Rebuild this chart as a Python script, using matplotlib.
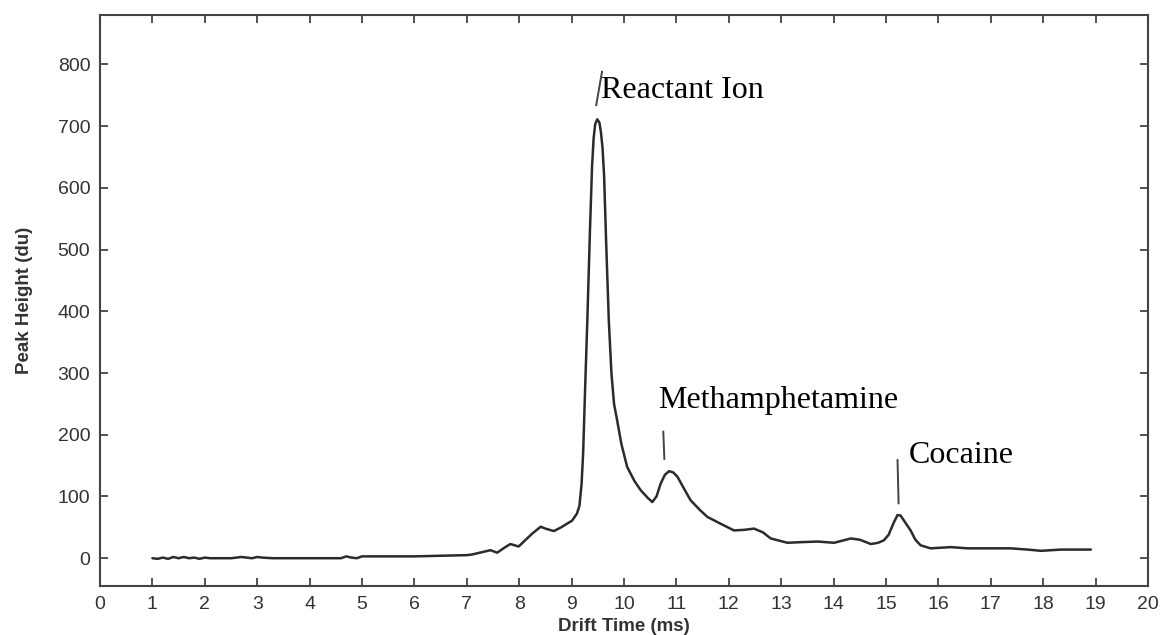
import matplotlib.pyplot as plt

# drift time (ms) and peak height (du)
drift_time = [1.0, 1.1, 1.2, 1.3, 1.4, 1.5, 1.6, 1.7, 1.8, 1.9, 2.0, 2.1, 2.3, 2.5,
              2.7, 2.8, 2.9, 3.0, 3.1, 3.3, 3.6, 4.0, 4.4, 4.6, 4.7, 4.8, 4.9, 5.0,
              5.5, 6.0, 6.5, 7.0, 7.1, 7.3, 7.45, 7.58, 7.7, 7.83, 7.99, 8.1, 8.25,
              8.41, 8.5, 8.66, 8.8, 9.01, 9.1, 9.15, 9.19, 9.22, 9.26, 9.30, 9.35,
              9.39, 9.42, 9.45, 9.49, 9.53, 9.56, 9.59, 9.62, 9.66, 9.71, 9.76, 9.81,
              9.87, 9.95, 10.06, 10.2, 10.32, 10.45, 10.54, 10.62, 10.70, 10.78,
              10.86, 10.94, 11.02, 11.15, 11.27, 11.45, 11.59, 11.84, 12.10, 12.3,
              12.48, 12.65, 12.80, 13.12, 13.37, 13.7, 14.01, 14.33, 14.5, 14.71,
              14.85, 14.96, 15.05, 15.15, 15.22, 15.28, 15.35, 15.47, 15.56, 15.66,
              15.85, 16.24, 16.56, 17.0, 17.38, 17.7, 17.96, 18.34, 18.6, 18.91]
peak_height = [0, -1, 1, -1, 2, 0, 2, 0, 1, -1, 1, 0, 0, 0,
               2, 1, 0, 2, 1, 0, 0, 0, 0, 0, 3, 1, 0, 3,
               3, 3, 4, 5, 6, 10, 13, 9, 16, 23, 19, 28, 40,
               51, 48, 44, 50, 61, 72, 85, 120, 170, 280, 385, 530,
               634, 680, 703, 711, 706, 690, 665, 620, 510, 385, 300, 250,
               223, 185, 148, 125, 110, 98, 91, 100, 121, 135,
               141, 139, 132, 112, 94, 78, 67, 56, 45, 46,
               48, 42, 32, 25, 26, 27, 25, 32, 30, 23,
               25, 29, 38, 58, 70, 69, 60, 45, 30, 21,
               16, 18, 16, 16, 16, 14, 12, 14, 14, 14]

# peak annotations: label, text anchor (x, y), marker segment (x0, y0, x1, y1)
labels = ["Reactant Ion", "Methamphetamine", "Cocaine"]
label_xy = [(9.57, 758), (10.66, 256), (15.43, 167)]
marker_seg = [(9.47, 734, 9.58, 788), (10.77, 161, 10.75, 205), (15.24, 89, 15.22, 159)]

x_ticks = list(range(0, 21))
y_ticks = list(range(0, 801, 100))

fig = plt.figure(figsize=(11.61, 6.35), dpi=100)
ax = fig.add_axes([100 / 1161, 1 - 586 / 635, 1048 / 1161, 571 / 635])

ax.plot(drift_time, peak_height, color="#2b2b2b", linewidth=1.8,
        solid_joinstyle="round", solid_capstyle="round")

for (lx, ly), (x0, y0, x1, y1), txt in zip(label_xy, marker_seg, labels):
    ax.plot([x0, x1], [y0, y1], color="#444444", linewidth=1.4)
    ax.text(lx, ly, txt, fontsize=23, family="Liberation Serif",
            ha="left", va="center", color="black")

ax.set_xlim(0, 20)
ax.set_ylim(-45, 880)
ax.set_xticks(x_ticks)
ax.set_yticks(y_ticks)
ax.tick_params(direction="in", length=6, width=1.3, color="#444444",
               top=True, right=True, labelsize=14, labelcolor="#333333", pad=7)
for lab in ax.get_xticklabels() + ax.get_yticklabels():
    lab.set_family("Liberation Sans")
for s in ax.spines.values():
    s.set_color("#444444")
    s.set_linewidth(1.5)

ax.set_xlabel("Drift Time (ms)", fontsize=13.5, fontweight="bold",
              family="Liberation Sans", color="#333333", labelpad=4)
ax.set_ylabel("Peak Height (du)", fontsize=13.5, fontweight="bold",
              family="Liberation Sans", color="#333333", labelpad=18)

plt.savefig("out.png", dpi=100)
